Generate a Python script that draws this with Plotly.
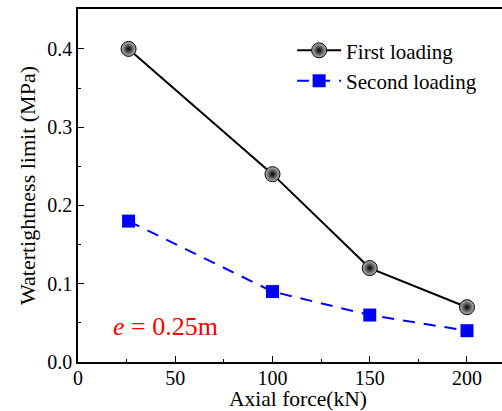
import plotly.graph_objects as go

axial_force = [26, 100, 150, 200]
first_loading = [0.40, 0.24, 0.12, 0.07]
second_loading = [0.18, 0.09, 0.06, 0.04]
x_ticks = [0, 50, 100, 150, 200]
y_ticks = [0.0, 0.1, 0.2, 0.3, 0.4]

FONT = "Liberation Serif"

fig = go.Figure()
fig.add_trace(go.Scatter(
    x=axial_force, y=first_loading, name="First loading",
    mode="lines+markers",
    line=dict(color="black", width=2),
    marker=dict(symbol="circle", size=15, color="#bbbbbb",
                gradient=dict(type="radial", color="black"),
                line=dict(color="black", width=1)),
))
fig.add_trace(go.Scatter(
    x=axial_force, y=second_loading, name="Second loading",
    mode="lines+markers",
    line=dict(color="#0000ff", width=2, dash="12px,9px"),
    marker=dict(symbol="square", size=13, color="#0000ff"),
))

fig.add_annotation(
    x=17, y=0.046, xref="x", yref="y", xanchor="left", yanchor="middle",
    text="<i>e</i> = 0.25m", showarrow=False,
    font=dict(family=FONT, size=26, color="#ff0000"),
)
fig.add_annotation(
    x=0.519, y=-0.105, xref="paper", yref="paper", xanchor="center", yanchor="middle",
    text="Axial force(kN)", showarrow=False,
    font=dict(family=FONT, size=21.5, color="black"),
)

fig.update_layout(
    width=502, height=411,
    margin=dict(l=78, r=0, t=9, b=49),
    paper_bgcolor="white", plot_bgcolor="white",
    font=dict(family=FONT, size=20, color="black"),
    showlegend=True,
    legend=dict(x=0.505, y=0.94, xanchor="left", yanchor="top",
                bgcolor="rgba(0,0,0,0)", font=dict(family=FONT, size=21),
                tracegroupgap=0, itemwidth=44),
)
fig.update_xaxes(
    range=[0, 218], tickvals=x_ticks, showgrid=False, zeroline=False,
    showline=True, linecolor="black", linewidth=1.6, mirror=True,
    ticks="inside", ticklen=6, tickwidth=1.2, tickcolor="black",
    minor=dict(dtick=25, tick0=0, ticks="inside", ticklen=3, tickcolor="black", showgrid=False),
    tickfont=dict(family=FONT, size=20), ticklabelstandoff=-3,
    automargin=False,
)
fig.update_yaxes(
    range=[0, 0.451], tickvals=y_ticks, tickformat=".1f", showgrid=False, zeroline=False,
    showline=True, linecolor="black", linewidth=1.6, mirror=False,
    ticks="inside", ticklen=6, tickwidth=1.2, tickcolor="black",
    minor=dict(dtick=0.05, tick0=0, ticks="inside", ticklen=3, tickcolor="black", showgrid=False),
    tickfont=dict(family=FONT, size=20),
    title=dict(text="Watertightness limit (MPa)", font=dict(family=FONT, size=22), standoff=6),
    automargin=False,
)

fig.write_html("out.html", config={"displayModeBar": False},
               post_script="document.body.style.margin='0';document.body.style.overflow='hidden';")
